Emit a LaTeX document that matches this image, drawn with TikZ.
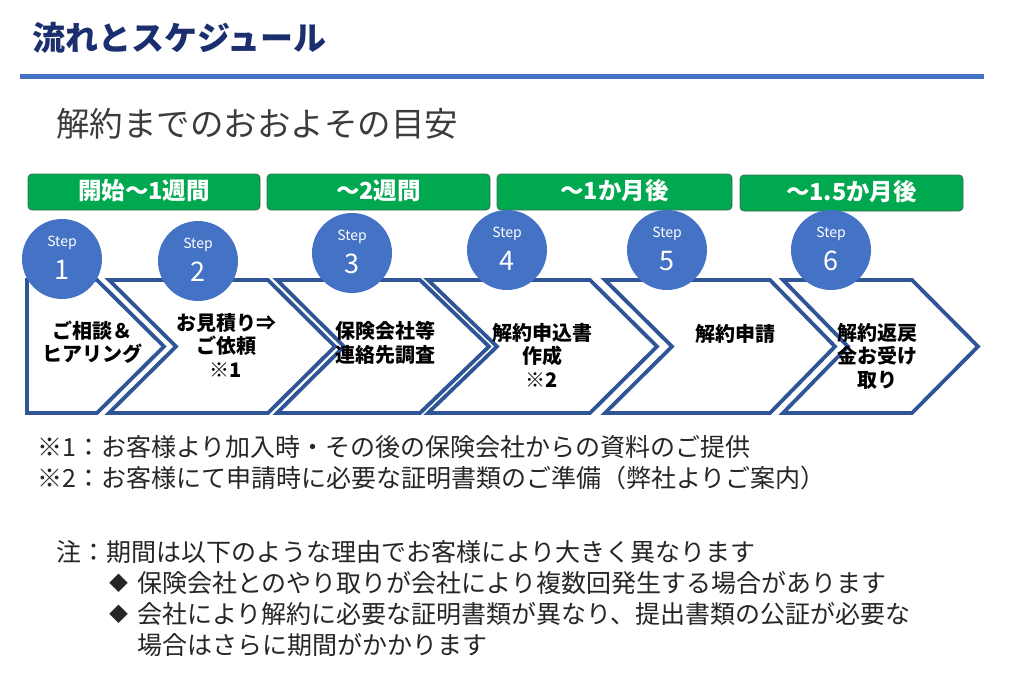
\documentclass[tikz,border=0pt]{standalone}
\usepackage{fontspec}
\setmainfont{Noto Sans CJK JP}
\definecolor{navy}{HTML}{1B2F6E}
\definecolor{rule}{HTML}{4472C4}
\definecolor{chev}{HTML}{2F5597}
\definecolor{circ}{HTML}{4472C4}
\definecolor{barfill}{HTML}{00A84F}
\definecolor{barline}{HTML}{3E6E55}
\definecolor{txt}{HTML}{262626}
\tikzset{
  chevron/.style={draw=chev, line width=3.8pt, fill=white, line join=miter},
  stepcirc/.style={circle, fill=circ, minimum size=80pt, inner sep=0pt},
  bar/.style={draw=barline, line width=0.8pt, fill=barfill, rounded corners=4pt},
  bartext/.style={text=white, font=\fontsize{23.5}{26}\selectfont\bfseries},
  steplbl/.style={text=white, font=\fontsize{14}{16}\selectfont},
  stepnum/.style={text=white, font=\fontsize{27}{30}\selectfont},
  chevtext/.style={text=black, align=center, font=\fontsize{20}{23.5}\selectfont\bfseries},
  note/.style={anchor=west, text=txt, inner sep=0pt, font=\fontsize{25}{31}\selectfont}
}
\begin{document}
\begin{tikzpicture}[x=1pt,y=-1pt]
\useasboundingbox (0,0) rectangle (1024,683);
\fill[white] (0,0) rectangle (1024,683);

% title
\node[anchor=west, inner sep=0pt, text=navy, font=\fontsize{33}{36}\selectfont\bfseries] (title) at (32,38) {流れとスケジュール};
\draw[rule, line width=5pt] (20,76.5) -- (984,76.5);
\node[anchor=west, inner sep=0pt, text=txt!90, font=\fontsize{33.5}{36}\selectfont] (subtitle) at (56,124) {解約までのおおよその目安};

% green bars
\draw[bar] (28,174) rectangle (260,210);
\draw[bar] (267,174) rectangle (490,210);
\draw[bar] (497,174) rectangle (732,210);
\draw[bar] (740,175) rectangle (963,211);
\node[bartext] (b1) at (144,191) {開始～1週間};
\node[bartext] (b2) at (378.5,191) {～2週間};
\node[bartext] (b3) at (614.5,191) {～1か月後};
\node[bartext] (b4) at (851.5,192) {～1.5か月後};

% chevrons
\draw[chevron] (27,280) -- (97,280) -- (164,346.5) -- (97,413) -- (27,413) -- cycle;
\draw[chevron] (109,280) -- (268,280) -- (335,346.5) -- (268,413) -- (109,413) -- (176,346.5) -- cycle;
\draw[chevron] (277,280) -- (420,280) -- (489,346.5) -- (420,413) -- (277,413) -- (344,346.5) -- cycle;
\draw[chevron] (428,280) -- (590,280) -- (657,346.5) -- (590,413) -- (428,413) -- (497,346.5) -- cycle;
\draw[chevron] (605,280) -- (770,280) -- (835,346.5) -- (770,413) -- (605,413) -- (672,346.5) -- cycle;
\draw[chevron] (783,280) -- (912,280) -- (978,346.5) -- (912,413) -- (783,413) -- (848,346.5) -- cycle;

% step circles
\foreach \i/\x/\y in {1/62/259, 2/198/261, 3/352/253, 4/507/250, 5/667/250, 6/831/250}{
  \node[stepcirc] (c\i) at (\x,\y) {};
  \node[steplbl] (s\i) at (\x,\y-16) {Step};
  \node[stepnum] (n\i) at (\x,\y+11) {\i};
}

% chevron texts
\node[chevtext] (t1) at (92,342) {ご相談＆\\ヒアリング};
\node[chevtext] (t2) at (226,345) {お見積り⇒\\ご依頼\\※1};
\node[chevtext] (t3) at (385,343) {保険会社等\\連絡先調査};
\node[chevtext] (t4) at (542,355) {解約申込書\\作成\\※2};
\node[chevtext] (t5) at (735,334) {解約申請};
\node[chevtext] (t6) at (877,356) {解約返戻\\金お受け\\取り};

% notes
\node[note] (f1) at (37,447) {※1：お客様より加入時・その後の保険会社からの資料のご提供};
\node[note] (f2) at (37,478) {※2：お客様にて申請時に必要な証明書類のご準備（弊社よりご案内）};
\node[note] (f3) at (56,552) {注：期間は以下のような理由でお客様により大きく異なります};
\node[note, font=\fontsize{19}{22}\selectfont] (d1) at (109,583) {◆};
\node[note] (f4) at (137,583) {保険会社とのやり取りが会社により複数回発生する場合があります};
\node[note, font=\fontsize{19}{22}\selectfont] (d2) at (109,614) {◆};
\node[note] (f5) at (137,614) {会社により解約に必要な証明書類が異なり、提出書類の公証が必要な};
\node[note] (f6) at (137,645) {場合はさらに期間がかかります};
\end{tikzpicture}
\end{document}
